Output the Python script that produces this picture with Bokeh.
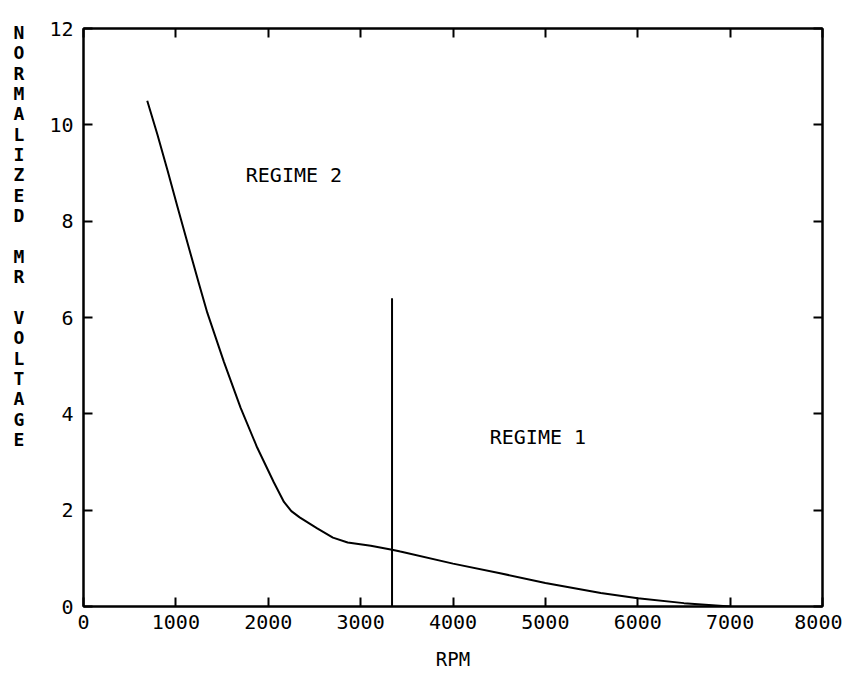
from bokeh.plotting import figure
from bokeh.models import Range1d, FixedTicker, LinearAxis, Label, CustomJSTickFormatter
from bokeh.embed import file_html
from bokeh.resources import INLINE

# Data
rpm = [690, 800, 910, 1020, 1130, 1250, 1340, 1520, 1700, 1880, 2060, 2170, 2250, 2340,
       2530, 2700, 2860, 3110, 3340, 3430, 4000, 4510, 5000, 5600, 6000, 6500, 7000]
voltage = [10.5, 9.8, 9.05, 8.28, 7.52, 6.7, 6.1, 5.08, 4.13, 3.3, 2.58, 2.17, 1.98, 1.85,
           1.62, 1.43, 1.33, 1.26, 1.18, 1.14, 0.89, 0.69, 0.49, 0.28, 0.17, 0.07, 0.0]
boundary_x = [3340, 3340]
boundary_y = [0.0, 6.4]
x_ticks = [0, 1000, 2000, 3000, 4000, 5000, 6000, 7000, 8000]
y_ticks = [0, 2, 4, 6, 8, 10, 12]
regime_text = ["REGIME 2", "REGIME 1"]
regime_x = [2278, 4919]
regime_y = [8.96, 3.52]
y_title = "NORMALIZED MR VOLTAGE"
x_title = "RPM"

FONT = "DejaVu Sans Mono"

p = figure(width=842, height=677, output_backend="svg", toolbar_location=None,
           x_range=Range1d(0, 8000), y_range=Range1d(0, 12),
           min_border_left=83, min_border_right=20, min_border_top=28, min_border_bottom=71)
p.grid.visible = False
p.outline_line_color = "black"
p.outline_line_width = 2
p.background_fill_color = "white"
p.border_fill_color = "white"

p.xaxis.ticker = FixedTicker(ticks=x_ticks)
p.yaxis.ticker = FixedTicker(ticks=y_ticks)
for ax in (p.xaxis[0], p.yaxis[0]):
    ax.major_tick_in = 9
    ax.major_tick_out = 0
    ax.minor_tick_line_color = None
    ax.axis_line_width = 2
    ax.major_tick_line_width = 2
    ax.major_label_text_font = FONT
    ax.major_label_text_font_size = "20px"
    ax.major_label_text_color = "black"
    ax.axis_line_color = "black"
    ax.major_tick_line_color = "black"
p.xaxis.major_label_standoff = 8
p.yaxis.major_label_standoff = 10
p.xaxis.axis_label = x_title
p.xaxis.axis_label_text_font = FONT
p.xaxis.axis_label_text_font_style = "normal"
p.xaxis.axis_label_text_font_size = "19px"
p.xaxis.axis_label_standoff = 16
p.xaxis.axis_label_text_color = "black"

# stacked vertical title; trailing blank lines lift it toward the top of the axis
stacked = "\n".join(list(y_title)) + "\n" * 8
p.yaxis.axis_label = stacked
p.yaxis.axis_label_orientation = "horizontal"
p.yaxis.axis_label_text_font = FONT
p.yaxis.axis_label_text_font_style = "bold"
p.yaxis.axis_label_text_font_size = "18px"
p.yaxis.axis_label_text_line_height = 0.97
p.yaxis.axis_label_standoff = 22
p.yaxis.axis_label_text_color = "black"

# mirrored axes with inward ticks
empty = CustomJSTickFormatter(code="return ''")
top = LinearAxis(ticker=FixedTicker(ticks=x_ticks), formatter=empty,
                 major_tick_in=9, major_tick_out=0, minor_tick_line_color=None,
                 axis_line_width=2, major_tick_line_width=2, major_label_standoff=0)
right = LinearAxis(ticker=FixedTicker(ticks=y_ticks), formatter=empty,
                   major_tick_in=9, major_tick_out=0, minor_tick_line_color=None,
                   axis_line_width=2, major_tick_line_width=2, major_label_standoff=0)
p.add_layout(top, "above")
p.add_layout(right, "right")

p.line(rpm, voltage, line_color="black", line_width=2)
p.line(boundary_x, boundary_y, line_color="black", line_width=2)

for t, x, y in zip(regime_text, regime_x, regime_y):
    p.add_layout(Label(x=x, y=y, text=t, text_font=FONT, text_font_size="20px",
                       text_align="center", text_baseline="middle", text_color="black"))

open("out.html", "w").write(file_html(p, INLINE))
